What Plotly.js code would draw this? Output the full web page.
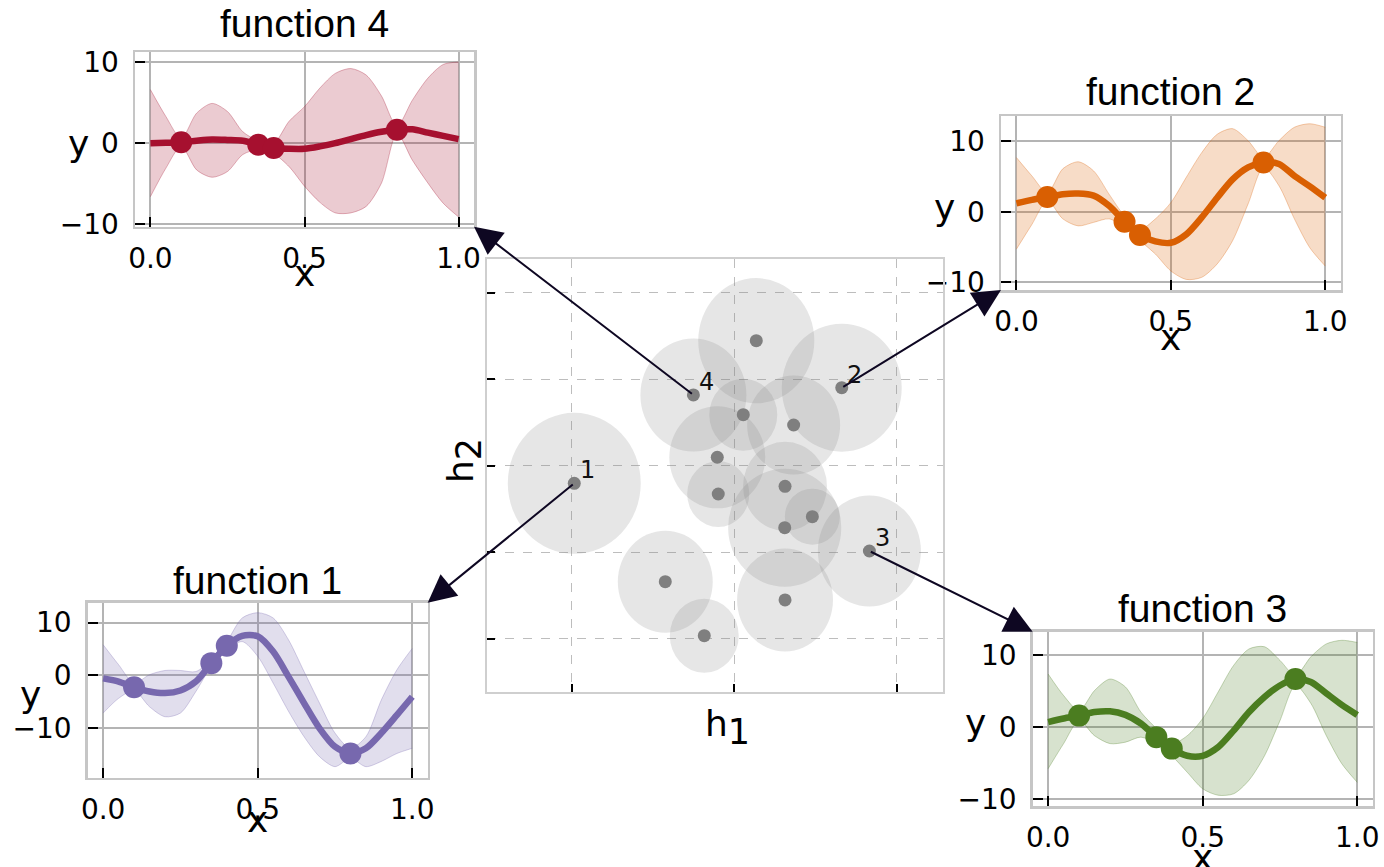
<!DOCTYPE html>
<html><head><meta charset="utf-8">
<script src="https://cdn.plot.ly/plotly-3.0.1.min.js"></script>
<style>html,body{margin:0;padding:0;background:#fff}</style>
</head><body><div id="chart" style="width:1384px;height:867px"></div>
<script>
// ---------- data ----------
const xGrid = [0,0.05,0.1,0.15,0.2,0.25,0.3,0.35,0.4,0.45,0.5,0.55,0.6,0.65,0.7,0.75,0.8,0.85,0.9,0.95,1.0];
const obsX = [0.1,0.35,0.4,0.8];

// function 1 (purple)
const f1Mean  = [-0.6,-1.2,-2.3,-3.1,-3.4,-2.9,-1.2,2.3,5.6,7.5,7.4,4.5,-0.3,-5.3,-10.1,-13.6,-14.9,-13.9,-11.0,-7.6,-4.1];
const f1Upper = [5.8,2.0,-1.5,0.1,0.9,0.9,0.7,2.9,6.4,10.9,11.9,10.9,6.7,0.7,-5.3,-11.0,-13.9,-11.7,-4.7,1.0,5.1];
const f1Lower = [-7.2,-4.4,-2.9,-6.0,-7.9,-7.2,-3.1,1.7,4.8,6.4,3.6,-1.5,-6.9,-11.7,-15.5,-17.4,-15.8,-17.4,-16.4,-14.9,-13.9];
const f1ObsY  = [-2.3,2.3,5.6,-14.9];

// function 2 (orange)
const f2Mean  = [1.2,1.7,2.1,2.5,2.6,2.3,0.85,-1.4,-3.3,-4.2,-4.4,-3.2,-0.8,2.0,4.6,6.3,7.0,6.8,5.1,3.6,2.0];
const f2Upper = [7.7,5.1,2.7,6.1,7.1,5.8,2.5,-0.6,-2.5,-1.0,1.3,4.9,8.4,11.0,11.8,10.1,7.7,10.1,12.0,12.5,12.0];
const f2Lower = [-5.3,-1.8,1.6,-1.0,-2.0,-1.5,-1.0,-2.2,-4.1,-6.0,-8.4,-9.6,-9.3,-7.4,-4.1,1.1,6.3,3.7,-1.0,-5.1,-7.7];
const f2ObsY  = [2.1,-1.4,-3.3,7.0];

// function 3 (green)
const f3Mean  = [0.7,1.2,1.6,2.1,2.2,1.7,0.5,-1.4,-3.0,-4.0,-4.0,-2.8,-0.5,2.1,4.2,5.8,6.7,6.3,4.7,3.1,1.7];
const f3Upper = [7.4,4.4,2.3,5.1,6.7,5.6,2.1,-0.2,-2.3,-1.2,1.2,4.9,8.6,10.9,11.2,9.3,7.2,9.8,11.6,12.1,11.8];
const f3Lower = [-5.8,-2.3,0.9,-1.2,-2.3,-2.1,-1.4,-2.3,-4.0,-6.3,-8.6,-9.5,-9.3,-7.4,-4.0,0.9,5.8,3.3,-1.2,-5.1,-7.7];
const f3ObsY  = [1.6,-1.4,-3.0,6.7];

// function 4 (crimson)
const f4Mean  = [0.0,0.05,0.1,0.3,0.45,0.4,0.3,-0.2,-0.6,-0.7,-0.7,-0.4,0.0,0.5,1.0,1.4,1.65,1.7,1.3,0.9,0.5];
const f4Upper = [6.6,3.3,0.6,3.7,4.9,3.9,1.4,0.3,0.0,2.7,4.5,6.8,8.6,9.2,8.4,5.8,2.1,5.3,8.0,9.7,10.0];
const f4Lower = [-6.6,-3.1,-0.4,-3.3,-4.2,-3.5,-1.4,-0.8,-1.3,-2.9,-5.3,-7.3,-8.6,-8.6,-7.8,-4.9,1.2,-2.1,-4.9,-7.4,-9.1];
const f4ObsY  = [0.1,-0.2,-0.6,1.65];

// embedding (h1, h2) with spread
const embH1 = [-0.983,-0.250,0.137,0.663,0.057,0.367,-0.103,-0.097,0.314,0.482,0.312,0.833,-0.423,0.314,-0.183];
const embH2 = [-0.200,0.821,1.449,0.905,0.593,0.474,0.101,-0.324,-0.235,-0.586,-0.713,-0.983,-1.338,-1.549,-1.962];
const embRx = [0.409,0.326,0.357,0.369,0.209,0.286,0.295,0.191,0.258,0.169,0.348,0.317,0.292,0.295,0.212];
const embRy = [0.815,0.653,0.723,0.740,0.416,0.572,0.590,0.382,0.514,0.324,0.682,0.642,0.590,0.595,0.428];
const embLabels = ['1','4','','2','','','','','','','','3','','',''];

const xTickVals = [0,0.5,1];
const xTickText = ['0.0','0.5','1.0'];
const yTickVals = [-10,0,10];

// ---------- layout config ----------
const W = 1384, H = 867;
const px = v => v / W, py = v => 1 - v / H;

const panels = [
  {name:'function 4', id:'',  mean:f4Mean, up:f4Upper, lo:f4Lower, obs:f4ObsY, rgb:'166,16,47',
   dx:[px(135),px(474)],     dy:[py(226.7),py(52.3)], yr:[-10.3,11.2], tShift:5, xShift:-47, corner:'br', embIdx:1},
  {name:'function 2', id:'2', mean:f2Mean, up:f2Upper, lo:f2Lower, obs:f2ObsY, rgb:'217,95,2',
   dx:[px(1001),px(1340.7)], dy:[py(290),py(116)],    yr:[-11.1,13.6], tShift:1, xShift:-47, corner:'bl', embIdx:3},
  {name:'function 1', id:'3', mean:f1Mean, up:f1Upper, lo:f1Lower, obs:f1ObsY, rgb:'119,104,174',
   dx:[px(87.7),px(427.7)],  dy:[py(777.7),py(602.7)], yr:[-19.5,13.8], tShift:-1, xShift:-42, corner:'tr', embIdx:0},
  {name:'function 3', id:'4', mean:f3Mean, up:f3Upper, lo:f3Lower, obs:f3ObsY, rgb:'75,125,32',
   dx:[px(1032.7),px(1372.7)], dy:[py(806),py(631.7)], yr:[-11.0,13.3], tShift:0, xShift:-51, corner:'tl', embIdx:11}
];
const cDom = {x:[px(487),px(943)], y:[py(692),py(259)]};
const cXr = [-1.52,1.286], cYr = [-2.613,2.393];

const traces = [];
const layout = {
  width:W, height:H, margin:{l:0,r:0,t:0,b:0}, paper_bgcolor:'#fff', plot_bgcolor:'rgba(0,0,0,0)',
  showlegend:false, annotations:[], shapes:[]
};
const tickFont = {family:'DejaVu Sans', size:28, color:'#000'};

panels.forEach(p => {
  const xa = 'x'+p.id, ya = 'y'+p.id;
  traces.push({x:xGrid, y:p.up, xaxis:xa, yaxis:ya, type:'scatter', mode:'lines',
    line:{color:`rgba(${p.rgb},0.3)`, width:1, shape:'spline', smoothing:0.8}, hoverinfo:'skip'});
  traces.push({x:xGrid, y:p.lo, xaxis:xa, yaxis:ya, type:'scatter', mode:'lines', fill:'tonexty',
    fillcolor:`rgba(${p.rgb},0.22)`, line:{color:`rgba(${p.rgb},0.3)`, width:1, shape:'spline', smoothing:0.8}, hoverinfo:'skip'});
  traces.push({x:xGrid, y:p.mean, xaxis:xa, yaxis:ya, type:'scatter', mode:'lines',
    line:{color:`rgb(${p.rgb})`, width:6.5, shape:'spline', smoothing:0.8}});
  traces.push({x:obsX, y:p.obs, xaxis:xa, yaxis:ya, type:'scatter', mode:'markers',
    marker:{color:`rgb(${p.rgb})`, size:22}});

  const common = {showgrid:true, gridcolor:'#b4b4b4', gridwidth:2, showline:true, linecolor:'#c6c6c6', linewidth:2.5,
    mirror:true, ticks:'inside', ticklen:10, tickwidth:2, tickcolor:'#000', zeroline:false, tickfont:tickFont, fixedrange:true};
  layout['xaxis'+p.id] = Object.assign({}, common, {domain:p.dx, range:[-0.05,1.05], anchor:ya,
    tickvals:xTickVals, ticktext:xTickText, ticklabelstandoff:5});
  layout['yaxis'+p.id] = Object.assign({}, common, {domain:p.dy, range:p.yr, anchor:xa,
    tickvals:yTickVals, ticklabelstandoff:8});

  const cx = (p.dx[0]+p.dx[1])/2, cy = (p.dy[0]+p.dy[1])/2;
  layout.annotations.push({xref:'paper', yref:'paper', x:cx, y:p.dy[1], yanchor:'bottom', xanchor:'center',
    yshift:p.tShift, text:p.name, showarrow:false, font:{family:'Liberation Sans', size:39, color:'#000'}});
  layout.annotations.push({xref:'paper', yref:'paper', x:cx, y:p.dy[0], yanchor:'middle', xanchor:'center',
    yshift:p.xShift, text:'x', showarrow:false, font:{family:'DejaVu Sans', size:36, color:'#000'}});
  layout.annotations.push({xref:'paper', yref:'paper', x:p.dx[0], y:cy, yanchor:'middle', xanchor:'center',
    xshift:-57, yshift:-4, text:'y', showarrow:false, font:{family:'DejaVu Sans', size:36, color:'#000'}});
});

// central embedding plot
traces.push({x:embH1, y:embH2, xaxis:'x5', yaxis:'y5', type:'scatter', mode:'markers',
  marker:{color:'#7f7f7f', size:13}, cliponaxis:false});
embH1.forEach((h, i) => {
  layout.shapes.push({type:'circle', xref:'x5', yref:'y5', layer:'between',
    x0:h-embRx[i], x1:h+embRx[i], y0:embH2[i]-embRy[i], y1:embH2[i]+embRy[i],
    fillcolor:'rgba(128,128,128,0.2)', line:{width:0}});
  if (embLabels[i]) {
    layout.annotations.push({xref:'x5', yref:'y5', x:h, y:embH2[i], text:embLabels[i], showarrow:false,
      xanchor:'center', yanchor:'middle', xshift:13, yshift:13, font:{family:'DejaVu Sans', size:24, color:'#111'}});
  }
});
layout.xaxis5 = {domain:cDom.x, range:cXr, anchor:'y5', showgrid:true, griddash:'dash', gridcolor:'#bdbdbd', gridwidth:1,
  showline:true, linecolor:'#cfcfcf', linewidth:2, mirror:true, ticks:'inside', ticklen:8, tickwidth:2, tickcolor:'#000',
  zeroline:false, showticklabels:false, tickvals:[-1,0,1], fixedrange:true};
layout.yaxis5 = {domain:cDom.y, range:cYr, anchor:'x5', showgrid:true, griddash:'dash', gridcolor:'#bdbdbd', gridwidth:1,
  showline:true, linecolor:'#cfcfcf', linewidth:2, mirror:true, ticks:'inside', ticklen:8, tickwidth:2, tickcolor:'#000',
  zeroline:false, showticklabels:false, tickvals:[-2,-1,0,1,2], fixedrange:true};

layout.annotations.push({xref:'paper', yref:'paper', x:px(727), y:py(727), xanchor:'center', yanchor:'middle',
  text:'h<sub><span style="font-size:35px">1</span></sub>', showarrow:false, font:{family:'DejaVu Sans', size:36, color:'#000'}});
layout.annotations.push({xref:'paper', yref:'paper', x:px(465), y:py(460), xanchor:'center', yanchor:'middle', textangle:-90,
  text:'h<sub><span style="font-size:35px">2</span></sub>', showarrow:false, font:{family:'DejaVu Sans', size:36, color:'#000'}});

// arrows from embedding points to panel corners
const paperToX5 = v => cXr[0] + (v - cDom.x[0]) / (cDom.x[1]-cDom.x[0]) * (cXr[1]-cXr[0]);
const paperToY5 = v => cYr[0] + (v - cDom.y[0]) / (cDom.y[1]-cDom.y[0]) * (cYr[1]-cYr[0]);
panels.forEach(p => {
  const hx = p.corner[1]==='r' ? p.dx[1] : p.dx[0];
  const hy = p.corner[0]==='t' ? p.dy[1] : p.dy[0];
  layout.annotations.push({xref:'x5', yref:'y5', axref:'x5', ayref:'y5',
    x:paperToX5(hx), y:paperToY5(hy), ax:embH1[p.embIdx], ay:embH2[p.embIdx],
    text:'', showarrow:true, arrowhead:2, arrowsize:2.8, arrowwidth:2, arrowcolor:'#0e0722', standoff:0, startstandoff:0});
});

Plotly.newPlot('chart', traces, layout, {displayModeBar:false, staticPlot:true});
</script>
</body></html>
